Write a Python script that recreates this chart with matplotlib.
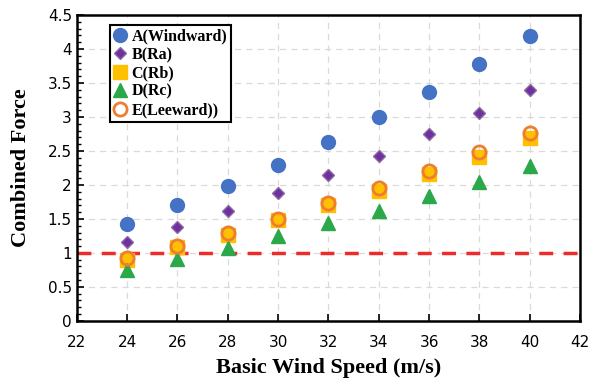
import matplotlib
matplotlib.use('Agg')
import matplotlib.pyplot as plt
from matplotlib.ticker import MultipleLocator, FuncFormatter

speed = [24, 26, 28, 30, 32, 34, 36, 38, 40]
force_a = [1.43, 1.70, 1.99, 2.30, 2.63, 3.00, 3.37, 3.78, 4.19]
force_b = [1.16, 1.38, 1.62, 1.88, 2.15, 2.43, 2.75, 3.06, 3.40]
force_c = [0.90, 1.08, 1.27, 1.48, 1.70, 1.91, 2.16, 2.41, 2.69]
force_d = [0.75, 0.91, 1.07, 1.25, 1.44, 1.62, 1.83, 2.05, 2.28]
force_e = [0.92, 1.10, 1.29, 1.50, 1.73, 1.96, 2.21, 2.48, 2.76]

serif = {'family': 'Liberation Serif', 'weight': 'bold'}

fig = plt.figure(figsize=(5.95, 3.87), dpi=100)
ax = fig.add_axes([0.129, 0.171, 0.846, 0.790])

ax.axhline(1.0, color='#EE2B2B', lw=2.5, ls=(0, (4, 3)), zorder=1)

ax.plot(speed, force_a, 'o', ms=10, color='#4472C4', label='A(Windward)', zorder=3)
ax.plot(speed, force_b, 'D', ms=6.5, color='#7030A0', mec='#8a6aa0', label='B(Ra)', zorder=3)
ax.plot(speed, force_c, 's', ms=9.5, color='#FFC000', label='C(Rb)', zorder=3)
ax.plot(speed, force_d, '^', ms=10, color='#2BA84A', label='D(Rc)', zorder=4)
ax.plot(speed, force_e, 'o', ms=9.5, mfc='none', mec='#ED7D31', mew=2, label='E(Leeward))', zorder=5)

ax.set_xlim(22, 42)
ax.set_ylim(0, 4.5)
ax.xaxis.set_major_locator(MultipleLocator(2))
ax.yaxis.set_major_locator(MultipleLocator(0.5))
ax.yaxis.set_minor_locator(MultipleLocator(0.1))
ax.yaxis.set_major_formatter(FuncFormatter(lambda v, p: '%g' % v))
ax.grid(True, which='major', color='#dadada', ls=(0, (5, 4)), lw=0.9, zorder=0)
ax.set_axisbelow(True)
ax.tick_params(which='both', direction='in', top=False, right=False, labelsize=11)
ax.tick_params(axis='x', pad=10)
ax.tick_params(which='major', length=5, width=1.2)
ax.tick_params(which='minor', length=3, width=1)
for s in ax.spines.values():
    s.set_linewidth(1.8)

ax.set_xlabel('Basic Wind Speed (m/s)', fontdict=serif, fontsize=16, labelpad=6)
ax.set_ylabel('Combined Force', fontdict=serif, fontsize=16, labelpad=12)

leg = ax.legend(loc='upper left', bbox_to_anchor=(0.05, 0.995), prop={'family': 'Liberation Serif', 'weight': 'bold', 'size': 11.5},
                handlelength=0.8, handletextpad=0.3, borderpad=0.25, labelspacing=0.15, fancybox=False, framealpha=1)
leg.get_frame().set_edgecolor('black')
leg.get_frame().set_linewidth(1.5)

fig.savefig('out.png', dpi=100)
